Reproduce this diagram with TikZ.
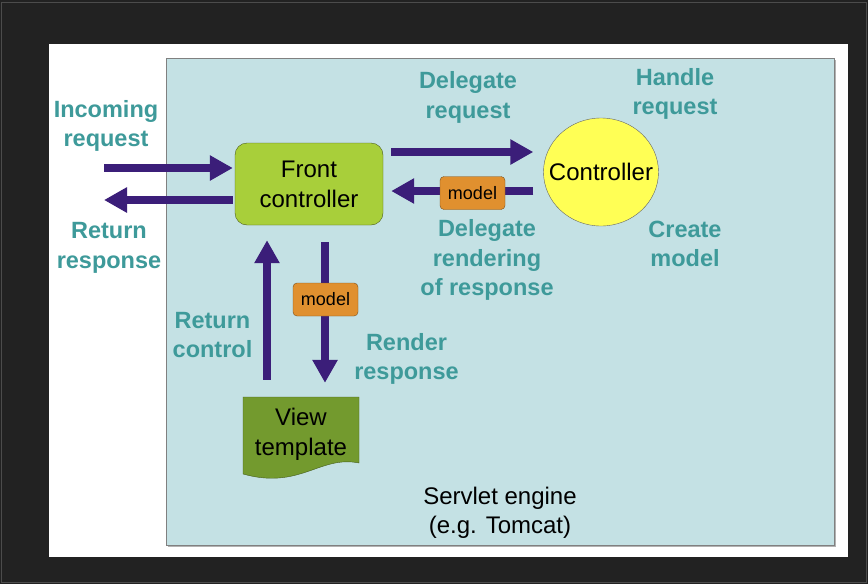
\documentclass[tikz,border=0pt]{standalone}
\usepackage{fontspec}
\setmainfont{Liberation Sans}
\usetikzlibrary{arrows.meta,calc,positioning,shapes.geometric}
\definecolor{frameblack}{HTML}{222222}
\definecolor{engineblue}{HTML}{C4E1E4}
\definecolor{labelteal}{HTML}{3E9A9A}
\definecolor{flowpurple}{HTML}{3B1E79}
\definecolor{frontgreen}{HTML}{A8CF3A}
\definecolor{viewgreen}{HTML}{739A2E}
\definecolor{ctrlyellow}{HTML}{FFFF55}
\definecolor{modelorange}{HTML}{E0902F}

\tikzset{
  lbl/.style={text=labelteal,font=\fontsize{23.5}{29.5}\selectfont\bfseries,align=center,inner sep=0pt},
  flow/.style={draw=flowpurple,line width=8.5pt,-{Triangle[length=23pt,width=24pt]}},
  modelbox/.style={draw=modelorange!55!black,fill=modelorange,rounded corners=4pt,minimum width=65pt,
    minimum height=33pt,inner sep=0pt,font=\fontsize{18}{20}\selectfont}
}

\begin{document}
\begin{tikzpicture}[x=1pt,y=-1pt]
  \useasboundingbox (0,0) rectangle (868,584);
  \fill[frameblack] (0,0) rectangle (868,584);
  \draw[gray!60!black,line width=1pt] (1,2) rectangle (866,582);
  \fill[white] (49,44) rectangle (848,557);
  \fill[gray!60] (168,60) rectangle (836,547);
  \draw[gray,fill=engineblue] (166,58) rectangle (834,545);

  \node[draw=frontgreen!45!black,fill=frontgreen,rounded corners=12pt,minimum width=148pt,minimum height=82pt,
    align=center,inner sep=0pt,font=\fontsize{24}{30}\selectfont] (front) at (309,184) {Front\\controller};
  \node[ellipse,draw=gray!80!black,fill=ctrlyellow,minimum width=115pt,minimum height=108pt,inner sep=0pt,
    label={[font=\fontsize{24}{30}\selectfont]center:Controller}] (ctrl) at (601,172) {};
  \draw[viewgreen!60!black,fill=viewgreen] (243,397) -- (359,397) -- (359,463)
    .. controls (320,455) and (300,490) .. (243,474) -- cycle;
  \node[minimum width=116pt,minimum height=74pt,align=center,inner sep=0pt,
    font=\fontsize{24}{30}\selectfont] (view) at (301,434) {View\\template};

  \coordinate (inA) at (104,168);
  \coordinate (outB) at (104,200);
  \draw[flow] (inA) -- ([xshift=-2pt,yshift=16pt]front.west);
  \draw[flow] ([xshift=-2pt,yshift=-16pt]front.west) -- (outB);
  \draw[flow] ([xshift=8pt,yshift=32pt]front.east) -- ([xshift=-10pt,yshift=20pt]ctrl.west);
  \draw[flow] ([xshift=-10pt,yshift=-19pt]ctrl.west) -- ([xshift=8pt,yshift=-7pt]front.east);
  \node[modelbox] (modelA) at (472.5,193) {model};
  \draw[flow] ([xshift=-34pt,yshift=17pt]view.north) -- ([xshift=-42pt,yshift=-15pt]front.south);
  \draw[flow] ([xshift=16pt,yshift=-17pt]front.south) -- ([xshift=24pt,yshift=14pt]view.north);
  \node[modelbox] (modelB) at (325.5,299.5) {model};

  \foreach \nm/\x/\y/\lab in {
     inLbl/106/126/{Incoming\\request},
     outLbl/109/248/{Return\\response},
     delegLbl/468/97.5/{Delegate\\request},
     handleLbl/675/94/{Handle\\request},
     renderLbl/487/260/{Delegate\\rendering\\of response},
     createLbl/685/244/{Create\\model},
     ctrlLbl/212.5/335/{Return\\control},
     respLbl/406.5/359/{Render\\response}}
  { \node[lbl] (\nm) at (\x,\y) {\lab}; }

  \node[align=center,inner sep=0pt,font=\fontsize{24}{29}\selectfont] (engine) at (500,512.5)
    {Servlet engine\\(e.g. Tomcat)};
\end{tikzpicture}
\end{document}
